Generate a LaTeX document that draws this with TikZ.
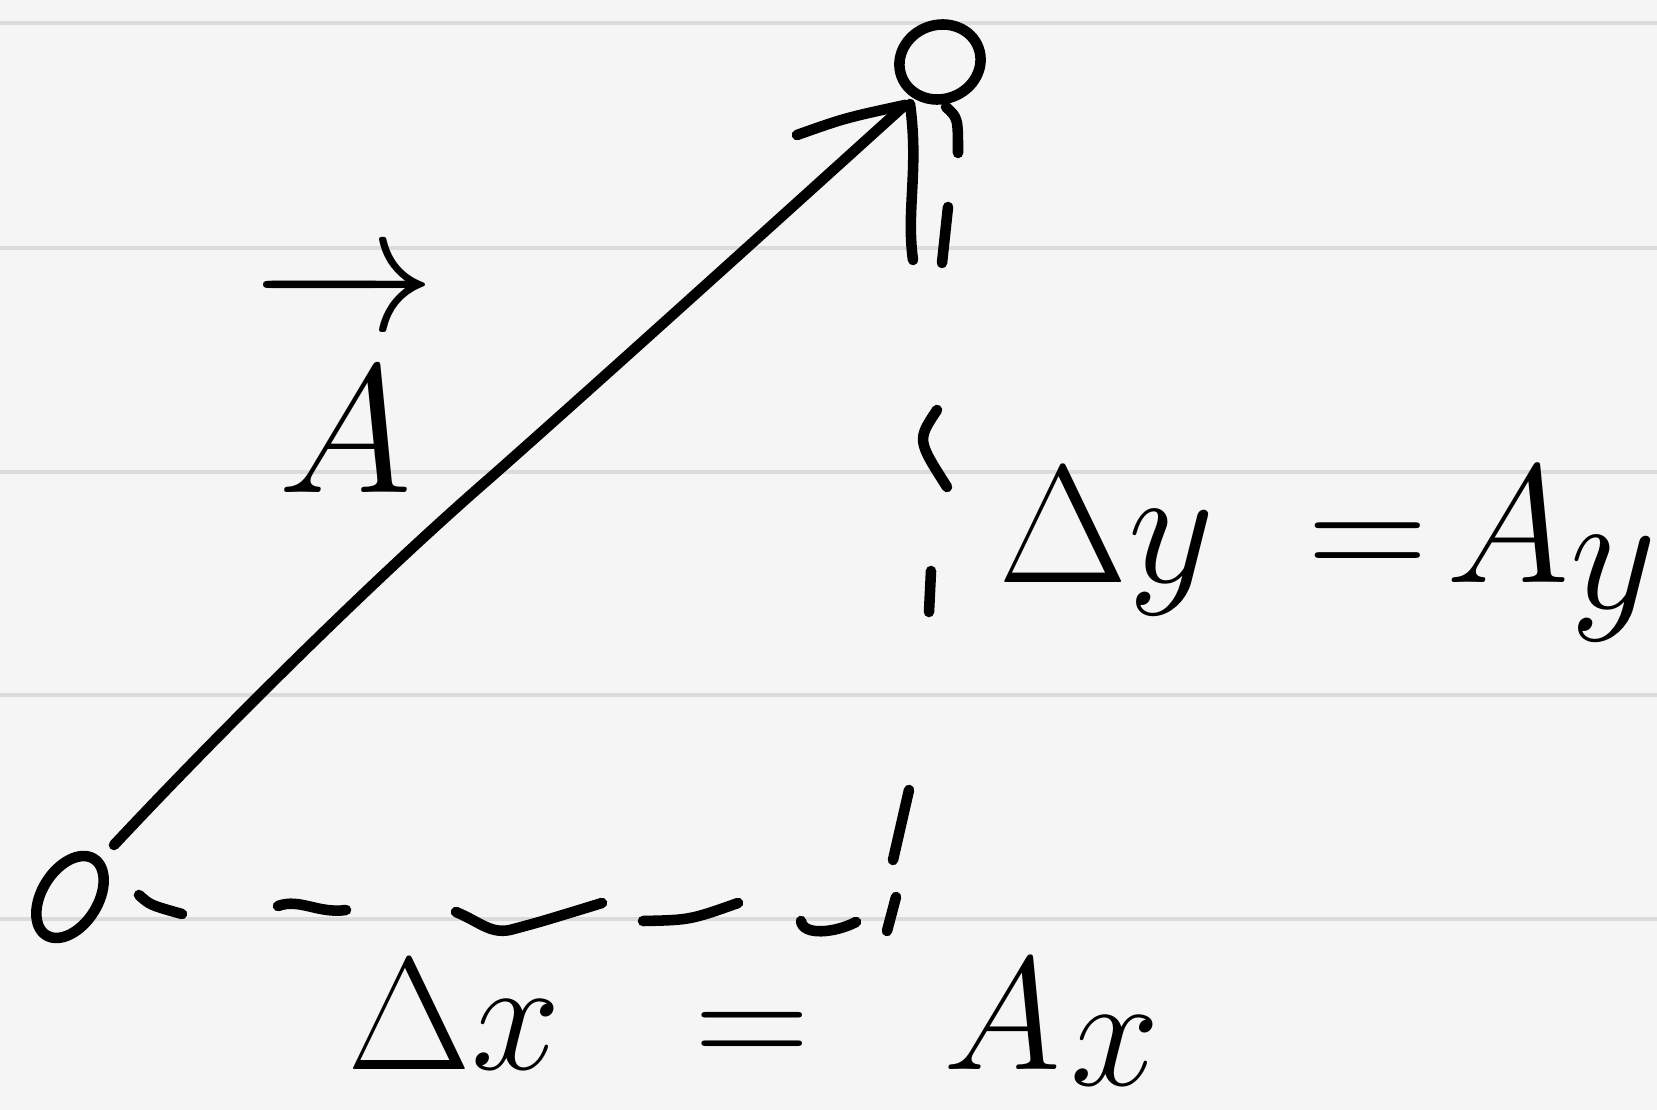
\documentclass[tikz,border=0pt]{standalone}
\usetikzlibrary{shapes.geometric}
\newcommand{\bigtxt}[2]{\scalebox{#1}{\huge #2}}
\begin{document}
\begin{tikzpicture}[x=0.01cm,y=-0.01cm,
  pen/.style={line width=3pt, line cap=round, line join=round, draw=black},
  rule/.style={draw=black!14, line width=0.9pt},
  lbl/.style={inner sep=0pt}]
\fill[black!4] (0,0) rectangle (1657,1110);
\useasboundingbox (0,0) rectangle (1657,1110);
\foreach \yy in {23,248,472,695,919} \draw[rule] (0,\yy) -- (1657,\yy);

% end points
\node (o) [pen, ellipse, minimum width=0.9cm, minimum height=0.56cm, rotate=58, inner sep=0pt] at (70,897) {};
\node (t) [pen, ellipse, minimum width=0.82cm, minimum height=0.74cm, rotate=20, inner sep=0pt] at (940,62) {};
\coordinate (vs) at (114,845);
\coordinate (vm) at (490,478);
\coordinate (tip) at (905,105);

% vector
\draw[pen] (vs) .. controls (235,716) and (384,570) .. (vm) .. controls (603,378) and (760,236) .. (tip);
\draw[pen] (797,135) .. controls (845,118) .. (tip);

% vertical dashes
\draw[pen] (910,104) .. controls (919,170) and (906,210) .. (913,260);
\draw[pen] (946,107) .. controls (958,118) .. (958,153);
\draw[pen] (948,207) -- (942,263);
\draw[pen] (937,410) .. controls (917,440) .. (947,487);
\draw[pen] (931,571) -- (929,612);
\draw[pen] (909,790) -- (893,860);
\draw[pen] (896,897) -- (887,931);

% horizontal dashes
\draw[pen] (139,895) .. controls (150,905) .. (182,914);
\draw[pen] (278,906) .. controls (300,898) and (318,914) .. (346,910);
\draw[pen] (456,912) .. controls (480,922) and (490,934) .. (510,930) .. controls (540,922) .. (602,903);
\draw[pen] (643,921) .. controls (690,920) .. (738,903);
\draw[pen] (801,921) .. controls (803,936) and (835,933) .. (856,922);

% labels
\node (va) [lbl, anchor=base] at (345,493) {\bigtxt{2.5}{$\overrightarrow{\rule{0pt}{19.5pt}A}$}};
\node (dy) [lbl, anchor=base west] at (998,583) {\bigtxt{2.3}{$\Delta y\;=\!A_{\textstyle y}$}};
\node (dx) [lbl, anchor=base west] at (347,1070) {\bigtxt{2.2}{$\Delta x\;\;=\;\;A\mkern1mu\lower2pt\hbox{$x$}$}};
\end{tikzpicture}
\end{document}
